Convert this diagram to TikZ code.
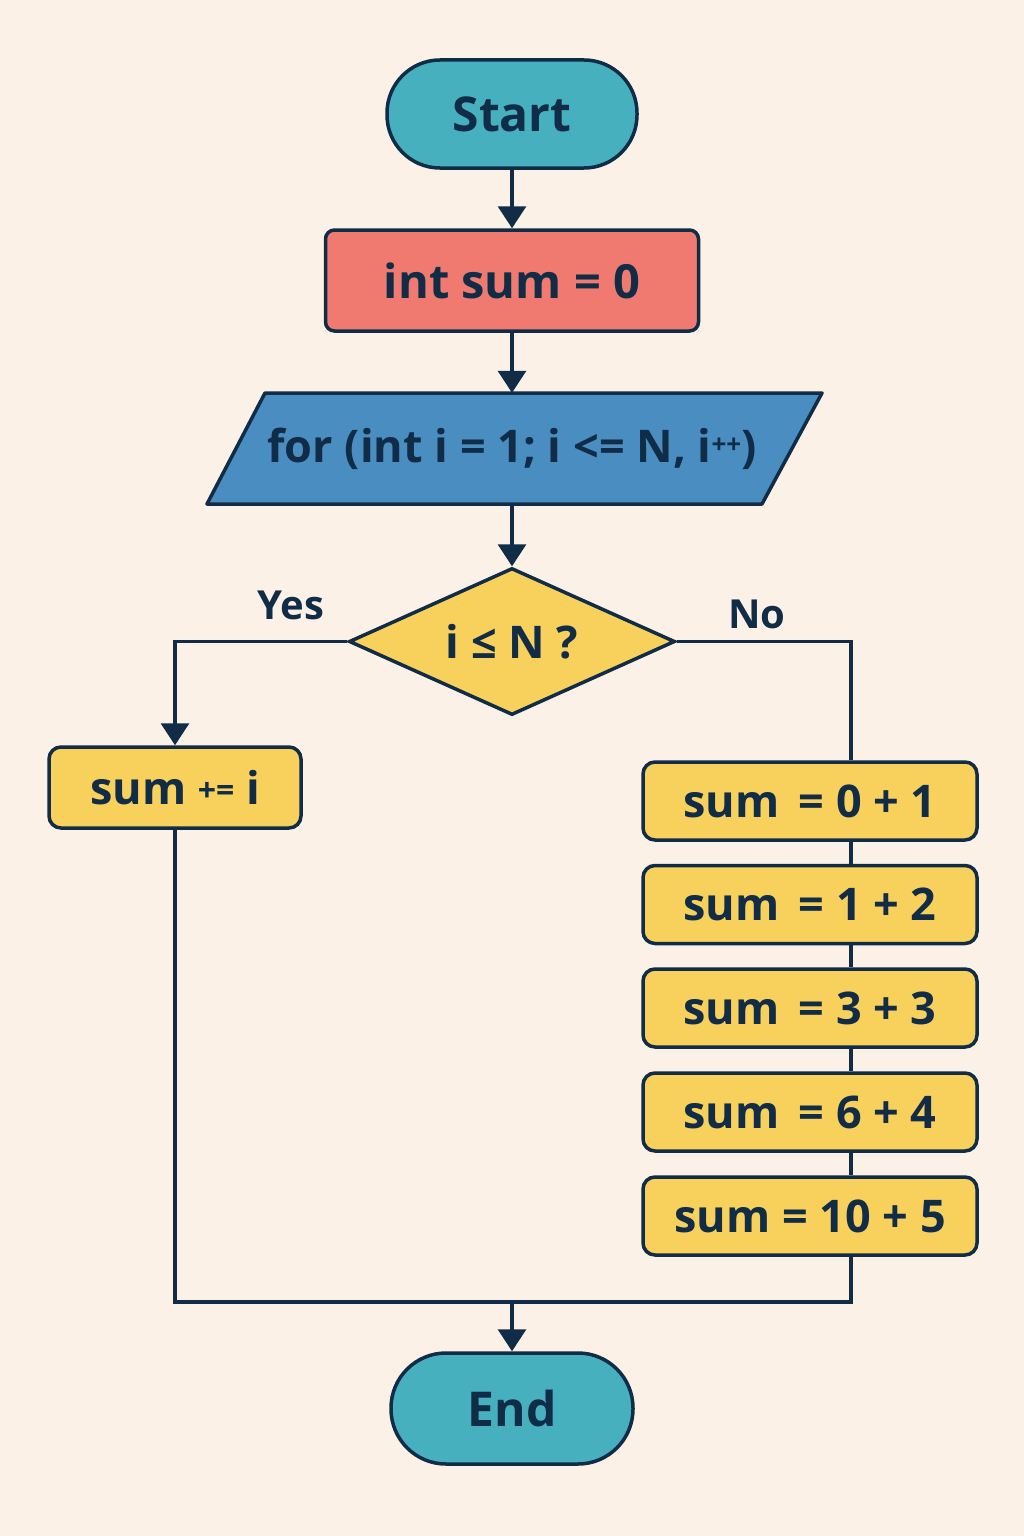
\documentclass[tikz,border=0pt]{standalone}
\usepackage{fontspec}
\setmainfont{Open Sans}
\usetikzlibrary{arrows.meta,shapes.geometric}
\definecolor{bgc}{HTML}{FBF1E6}
\definecolor{navy}{HTML}{102C47}
\definecolor{tealc}{HTML}{46B0BE}
\definecolor{salmon}{HTML}{F07A6F}
\definecolor{bluec}{HTML}{4A8DC1}
\definecolor{yell}{HTML}{F8D05C}
\newcommand{\fs}[1]{\fontsize{#1}{#1}\selectfont}
\begin{document}
\begin{tikzpicture}[x=1pt,y=-1pt,
  box/.style={draw=navy, line width=3.5pt, text=navy, font=\bfseries, inner sep=0pt},
  sumbox/.style={box, fill=yell, minimum width=334pt, minimum height=78pt, rounded corners=12pt, font=\bfseries\fs{45}},
  arr/.style={draw=navy, line width=3.2pt, -{Triangle[width=28pt,length=22pt]}},
  ln/.style={draw=navy, line width=3.2pt},
  lab/.style={text=navy, font=\bfseries\fs{40}, inner sep=0pt}]
\fill[bgc] (0,0) rectangle (1024,1536);
\useasboundingbox (0,0) rectangle (1024,1536);

\node[box, fill=tealc, minimum width=250pt, minimum height=108pt, rounded corners=53pt, font=\bfseries\fs{48}] (start) at (512,114) {Start};
\node[box, fill=salmon, minimum width=373pt, minimum height=101pt, rounded corners=9pt, font=\bfseries\fs{47}] (init) at (512,280.5) {int sum = 0};
\fill[bluec] (265,393) -- (822,393) -- (762,504) -- (207,504) -- cycle;
\draw[navy, line width=3.5pt, line join=round] (265,393) -- (822,393) -- (762,504) -- (207,504) -- cycle;
\node[text=navy, font=\bfseries\fs{45}, inner sep=0pt, minimum width=440pt, minimum height=111pt] (loop) at (512,448.5) {for (int i = 1; i <= N, i\raisebox{9pt}{\fs{26}++})};
\node[box, fill=yell, shape=diamond, aspect=2.2, minimum width=326pt, minimum height=147pt, font=\bfseries\fs{45}] (cond) at (512,641.5) {i ≤ N ?};
\node[lab] (yes) at (291,605) {Yes};
\node[lab] (no) at (757,614) {No};
\node[sumbox, minimum width=252pt, minimum height=81pt] (add) at (175,787.5) {sum \raisebox{3pt}{\fs{32}+=} i};
\node[sumbox] (s1) at (810,801) {sum\, = 0 + 1};
\node[sumbox] (s2) at (810,904.5) {sum\, = 1 + 2};
\node[sumbox] (s3) at (810,1008) {sum\, = 3 + 3};
\node[sumbox] (s4) at (810,1112) {sum\, = 6 + 4};
\node[sumbox] (s5) at (810,1216) {sum = 10 + 5};
\node[box, fill=tealc, minimum width=242pt, minimum height=111pt, rounded corners=55pt, font=\bfseries\fs{48}] (end) at (512,1408.5) {End};
\coordinate (join) at (512,1302);

\draw[arr] (start.south) -- (init.north);
\draw[arr] (init.south) -- (loop.north);
\draw[arr] (loop.south) -- (cond.north);
\draw[arr] (cond.west) -| (add.north);
\draw[ln] (cond.east) -| ([xshift=41pt]s1.north);
\draw[ln] ([xshift=41pt]s1.south) -- ([xshift=41pt]s2.north);
\draw[ln] ([xshift=41pt]s2.south) -- ([xshift=41pt]s3.north);
\draw[ln] ([xshift=41pt]s3.south) -- ([xshift=41pt]s4.north);
\draw[ln] ([xshift=41pt]s4.south) -- ([xshift=41pt]s5.north);
\draw[ln] (add.south) |- (join);
\draw[ln] ([xshift=41pt]s5.south) |- (join);
\draw[arr] (join) -- (end.north);
\end{tikzpicture}
\end{document}
